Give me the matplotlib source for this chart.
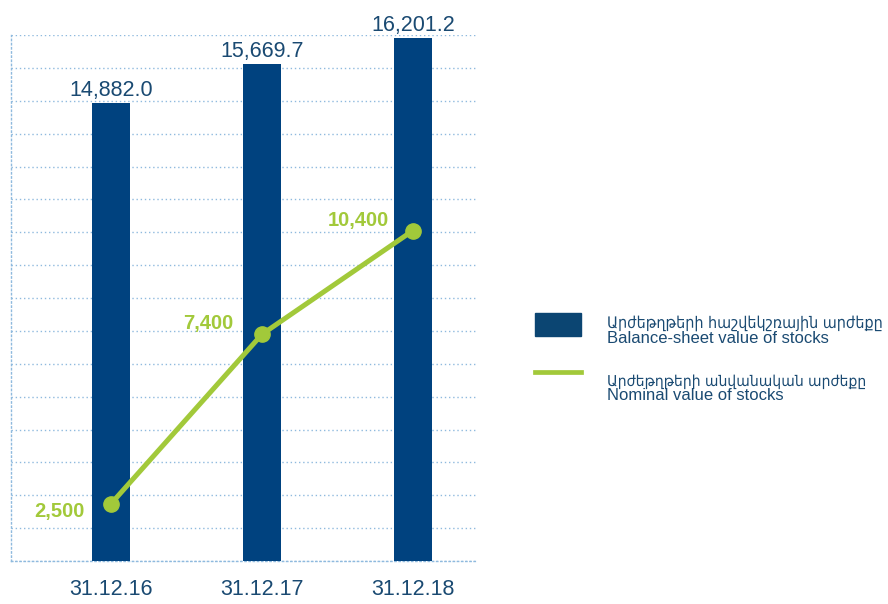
import matplotlib
matplotlib.use("Agg")
import matplotlib.pyplot as plt
import numpy as np
from matplotlib.patches import Rectangle
from matplotlib.lines import Line2D

# ---- data ----
dates = ["31.12.16", "31.12.17", "31.12.18"]
balance = [14882.0, 15669.7, 16201.2]
nominal = [2500, 7400, 10400]
legend_balance = ["Արժեթղթերի հաշվեկշռային արժեքը", "Balance-sheet value of stocks"]
legend_nominal = ["Արժեթղթերի անվանական արժեքը", "Nominal value of stocks"]

# ---- style ----
BLUE = "#00427f"
LEG_BLUE = "#0b4572"
GREEN = "#a2c93a"
TXT = "#1a4a72"
GRID = "#8fbade"
FAM = ["Liberation Sans", "DejaVu Sans"]
plt.rcParams["font.family"] = FAM

W, H = 888, 604
fig = plt.figure(figsize=(W / 100, H / 100), dpi=100)
ax = fig.add_axes([11 / W, (H - 561) / H, (477 - 11) / W, (561 - 35) / H])

x = np.arange(len(dates))
ax.bar(x, balance, width=0.252, color=BLUE, zorder=3)
ax.set_xlim(-0.662, 2.424)
y0, y1 = 5607, 16252
ax.set_ylim(y0, y1)
ax.set_yticks(np.linspace(y0, y1, 17))
ax.yaxis.grid(True, linestyle=(0, (1, 2)), color=GRID, linewidth=1.0, zorder=0)
ax.set_axisbelow(True)
ax.set_xticks(x)
ax.set_xticklabels(dates)
for s in ["top", "right"]:
    ax.spines[s].set_visible(False)
for s in ["left", "bottom"]:
    ax.spines[s].set_linestyle((0, (1, 2)))
    ax.spines[s].set_color(GRID)
    ax.spines[s].set_linewidth(1.0)

for xi, v in zip(x, balance):
    ax.annotate(f"{v:,.1f}", (xi, v), xytext=(0, 5), textcoords="offset points",
                ha="center", va="baseline", fontsize=15.5, color=TXT, zorder=4)

ax2 = ax.twinx()
ax2.set_ylim(847, 16052)
ax2.plot(x, nominal, color=GREEN, lw=3.6, marker="o", ms=11, zorder=5,
         solid_capstyle="round")
ax2.axis("off")
offs = [(-18.7, -9.4), (-20.9, 3.6), (-17.3, 2.9)]
for xi, v, o in zip(x, nominal, offs):
    ax2.annotate(f"{v:,}", (xi, v), xytext=o, textcoords="offset points",
                 ha="right", va="baseline", fontsize=14.5, fontweight="bold",
                 color=GREEN)

# ticks must be set after twinx (twinx resets left ticks)
ax.tick_params(axis="y", left=False, right=False, labelleft=False, labelright=False)
ax.tick_params(axis="x", length=0, pad=13, labelsize=15.5, labelcolor=TXT)

# ---- legend (manual) ----
fig.add_artist(Rectangle((535 / W, (H - 336) / H), 46 / W, 23 / H,
                         transform=fig.transFigure, color=LEG_BLUE))
fig.add_artist(Line2D([535 / W, 581 / W], [(H - 371.5) / H] * 2,
                      transform=fig.transFigure, color=GREEN, lw=3.4))
t1 = fig.text(607 / W, (H - 327.5) / H, legend_balance[0], fontsize=12, color=TXT,
              va="baseline", fontstretch="condensed")
fig.text(607 / W, (H - 343.3) / H, legend_balance[1], fontsize=12, color=TXT, va="baseline")
t3 = fig.text(607 / W, (H - 386) / H, legend_nominal[0], fontsize=12, color=TXT,
              va="baseline", fontstretch="condensed")
fig.text(607 / W, (H - 400) / H, legend_nominal[1], fontsize=12, color=TXT, va="baseline")

# fit Armenian lines to the reference width (fallback font is wider)
r = fig.canvas.get_renderer()
for t, target in [(t1, 275.0), (t3, 258.0)]:
    w = t.get_window_extent(r).width
    t.set_fontsize(min(12.5, 12 * target / w))

fig.savefig("out.png", dpi=100)
